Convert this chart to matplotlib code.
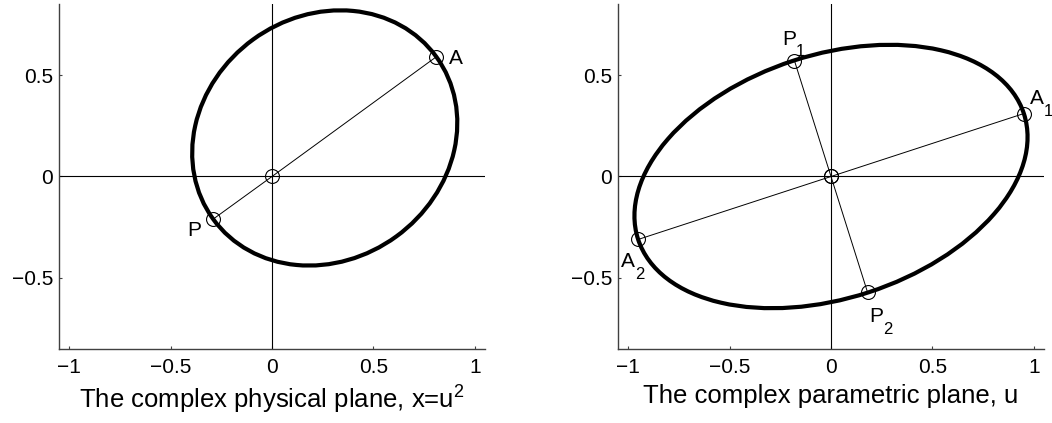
import matplotlib
matplotlib.use('Agg')
import matplotlib.pyplot as plt
from matplotlib.patches import Ellipse

plt.rcParams['font.family'] = ['Liberation Sans', 'DejaVu Sans']
plt.rcParams['mathtext.fontset'] = 'custom'
plt.rcParams['mathtext.rm'] = 'Liberation Sans'
plt.rcParams['mathtext.default'] = 'regular'

# axis ticks (both planes)
xticks = [-1, -0.5, 0, 0.5, 1]
xtick_labels = ['\u22121', '\u22120.5', '0', '0.5', '1']
yticks = [-0.5, 0, 0.5]
ytick_labels = ['\u22120.5', '0', '0.5']

# physical plane x = u^2 : orbit with focus at the origin
phys_center = (0.26, 0.19)
phys_axes = (0.68, 0.60)      # semi-axes
phys_angle = 36               # degrees
phys_x = [0.81, 0.0, -0.29]   # A, O, P
phys_y = [0.59, 0.0, -0.21]

# parametric plane u : centred ellipse
par_center = (0.0, 0.0)
par_axes = (1.0, 0.6)
par_angle = 18
apo_x = [0.95, 0.0, -0.95]    # A1, O, A2
apo_y = [0.31, 0.0, -0.31]
peri_x = [-0.18, 0.0, 0.18]   # P1, O, P2
peri_y = [0.57, 0.0, -0.57]

# point labels: (x, y) of the letter baseline, letter, subscript
phys_labels = [(0.873, 0.555, 'A', ''), (-0.417, -0.291, 'P', '')]
par_labels = [(0.98, 0.355, 'A', '1'), (-1.034, -0.447, 'A', '2'),
              (-0.24, 0.65, 'P', '1'), (0.19, -0.716, 'P', '2')]

fig = plt.figure(figsize=(10.52, 4.23), dpi=100)
ax1 = fig.add_axes([59 / 1052, 74 / 423, 426 / 1052, 345 / 423])
ax2 = fig.add_axes([618 / 1052, 74 / 423, 426 / 1052, 345 / 423])

fs_lab = 15
fs_sub = 12


def setup(ax, xlabel):
    ax.set_xlim(-1.05, 1.05)
    ax.set_ylim(-0.85, 0.85)
    ax.spines['top'].set_visible(False)
    ax.spines['right'].set_visible(False)
    for s in ['left', 'bottom']:
        ax.spines[s].set_color('#404040')
        ax.spines[s].set_linewidth(1.0)
    ax.set_xticks(xticks)
    ax.set_xticklabels(xtick_labels)
    ax.set_yticks(yticks)
    ax.set_yticklabels(ytick_labels)
    ax.tick_params(axis='both', direction='in', length=2.5, width=0.8,
                   color='#404040', labelsize=15)
    ax.tick_params(axis='x', pad=6.5)
    ax.tick_params(axis='y', pad=4.3)
    ax.axhline(0, color='k', lw=0.8)
    ax.axvline(0, color='k', lw=0.8)
    ax.set_xlabel(xlabel, fontsize=18.5, labelpad=5)


def put_labels(ax, labels):
    for x, y, base, sub in labels:
        ax.text(x, y, base, fontsize=fs_lab, ha='left', va='baseline')
        if sub:
            ax.annotate(sub, (x, y), xytext=(0.667 * fs_lab, -8.5),
                        textcoords='offset points', fontsize=fs_sub,
                        ha='left', va='baseline')


setup(ax1, r'The complex physical plane, x=u$^2$')
ax1.add_patch(Ellipse(phys_center, 2 * phys_axes[0], 2 * phys_axes[1],
                      angle=phys_angle, fill=False, ec='k', lw=3))
ax1.plot(phys_x, phys_y, color='k', lw=0.7, marker='o', ms=10,
         mfc='none', mec='k', mew=0.8)
put_labels(ax1, phys_labels)

setup(ax2, 'The complex parametric plane, u')
ax2.add_patch(Ellipse(par_center, 2 * par_axes[0], 2 * par_axes[1],
                      angle=par_angle, fill=False, ec='k', lw=3))
ax2.plot(apo_x, apo_y, color='k', lw=0.7, marker='o', ms=10,
         mfc='none', mec='k', mew=0.8)
ax2.plot(peri_x, peri_y, color='k', lw=0.7, marker='o', ms=10,
         mfc='none', mec='k', mew=0.8)
put_labels(ax2, par_labels)

fig.savefig('out.png', dpi=100)
